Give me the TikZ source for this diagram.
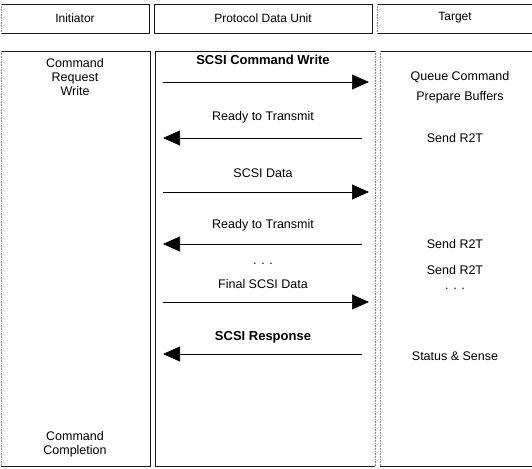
\documentclass[tikz,border=0pt]{standalone}
\usepackage{fontspec}
\setmainfont{Liberation Sans}
\usetikzlibrary{arrows.meta}
\begin{document}
\begin{tikzpicture}[x=1pt,y=-1pt,
  panel/.style={draw=black!90,line width=0.8pt},
  faintedge/.style={draw=black!45,line width=0.6pt,densely dotted},
  hlbl/.style={font=\fontsize{12}{14}\selectfont,inner sep=0pt,align=center},
  lbl/.style={font=\fontsize{12.5}{14}\selectfont,inner sep=0pt,align=center},
  blbl/.style={lbl,font=\fontsize{13}{15}\selectfont\bfseries},
  msg/.style={line width=0.7pt,-{Triangle[length=17pt,width=15pt]}}]
\useasboundingbox (0,0) rectangle (532,468);
% header row
\draw[panel] (149,4) -- (1,4);
\draw[panel] (1,33) -- (149,33) -- (149,4);
\draw[faintedge] (1,4) -- (1,33);
\draw[panel] (154,4) rectangle (372,33);
\draw[panel] (532,4) -- (377,4);
\draw[panel] (377,33) -- (532,33);
\draw[faintedge] (377,4) -- (377,33);
\node[hlbl] (hInit) at (75,18) {Initiator};
\node[hlbl] (hPdu) at (263,18) {Protocol Data Unit};
\node[hlbl] (hTgt) at (455,18) {Target};
% body columns
\draw[panel] (1,51) -- (150,51) -- (150,466) -- (1,466);
\draw[faintedge] (1,51) -- (1,466);
\draw[panel] (155,51) -- (375,51);
\draw[panel] (155,51) -- (155,466) -- (375,466);
\draw[faintedge] (375,51) -- (375,466);
\draw[panel] (380,51) -- (532,51);
\draw[panel] (380,466) -- (532,466);
\draw[faintedge] (380,51) -- (380,466);
% initiator side
\node[lbl] (iReq) at (75,77) {Command\\Request\\Write};
\node[lbl] (iDone) at (75,444) {Command\\Completion};
% target side
\node[lbl] (tQueue) at (460,77) {Queue Command};
\node[lbl] (tPrep) at (460,97) {Prepare Buffers};
\node[lbl] (tR2a) at (455,138) {Send R2T};
\node[lbl] (tR2b) at (455,244) {Send R2T};
\node[lbl] (tR2c) at (455,270) {Send R2T};
\node[lbl] (tDots) at (455,289) {. . .};
\node[lbl] (tStat) at (455,356) {Status \& Sense};
% message endpoints
\coordinate (L1) at (163,82);  \coordinate (R1) at (369,82);
\coordinate (L2) at (163,138); \coordinate (R2) at (362,138);
\coordinate (L3) at (163,192); \coordinate (R3) at (369,192);
\coordinate (L4) at (163,244); \coordinate (R4) at (362,244);
\coordinate (L5) at (163,302); \coordinate (R5) at (369,302);
\coordinate (L6) at (163,354); \coordinate (R6) at (362,354);
% messages
\node[blbl] (m1) at (263,60) {SCSI Command Write};
\draw[msg] (L1) -- (R1);
\node[lbl] (m2) at (263,117) {Ready to Transmit};
\draw[msg] (R2) -- (L2);
\node[lbl] (m3) at (263,173) {SCSI Data};
\draw[msg] (L3) -- (R3);
\node[lbl] (m4) at (263,225) {Ready to Transmit};
\draw[msg] (R4) -- (L4);
\node[lbl] (mDots) at (263,264) {. . .};
\node[lbl] (m5) at (263,284) {Final SCSI Data};
\draw[msg] (L5) -- (R5);
\node[blbl] (m6) at (263,337) {SCSI Response};
\draw[msg] (R6) -- (L6);
\end{tikzpicture}
\end{document}
